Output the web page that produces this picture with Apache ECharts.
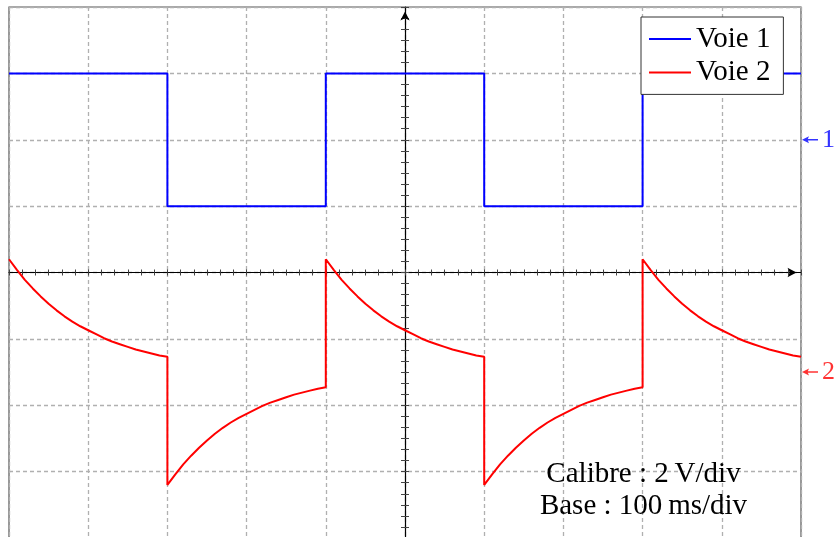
<!DOCTYPE html>
<html>
<head>
<meta charset="utf-8">
<script src="https://cdn.jsdelivr.net/npm/echarts@6/dist/echarts.min.js"></script>
<style>
  html, body { margin: 0; padding: 0; background: #fff; }
  #chart { width: 836px; height: 537px; }
</style>
</head>
<body>
<div id="chart"></div>
<script>
// Oscilloscope screen: 10 horizontal divisions of 100 ms, 8 vertical divisions.
const timeRange = [-500, 500];        // ms
const divRange = [-4, 4];             // vertical divisions

// Voie 1: square wave (levels in divisions between successive edges)
const voie1Edges = [-500, -300, -100, 100, 300, 500];
const voie1Levels = [3, 1, 3, 1, 3];

// Voie 2: RC response, one point every 10 ms within each half period
const segmentOffsets = [0, 10, 20, 30, 40, 50, 60, 70, 80, 90, 100,
                        110, 120, 130, 140, 150, 160, 170, 180, 190, 200];
const decayLevels = [0.20, 0.04, -0.11, -0.24, -0.36, -0.47, -0.57, -0.66, -0.74, -0.81, -0.87,
                     -0.93, -0.99, -1.04, -1.08, -1.12, -1.16, -1.19, -1.22, -1.25, -1.27];
const riseLevels  = [-3.20, -3.04, -2.89, -2.76, -2.64, -2.53, -2.43, -2.34, -2.26, -2.19, -2.13,
                     -2.07, -2.01, -1.96, -1.92, -1.88, -1.84, -1.81, -1.78, -1.75, -1.73];
const voie2Starts = [-500, -300, -100, 100, 300];
const voie2Shapes = ['decay', 'rise', 'decay', 'rise', 'decay'];

// Ground reference markers on the right edge
const markerLevels = [2, -1.5];
const markerLabels = ['1', '2'];
const markerColors = ['#0000ff', '#ff0000'];

const legendNames = ['Voie 1', 'Voie 2'];
const infoLines = ['Calibre : 2\u2009V/div', 'Base : 100\u2009ms/div'];

const FONT = '"Liberation Serif", "DejaVu Serif", serif';

const voie1Data = [];
voie1Levels.forEach((lvl, i) => {
  voie1Data.push([voie1Edges[i], lvl]);
  voie1Data.push([voie1Edges[i + 1], lvl]);
});

const voie2Data = [];
voie2Starts.forEach((start, i) => {
  const levels = voie2Shapes[i] === 'decay' ? decayLevels : riseLevels;
  segmentOffsets.forEach((dt, k) => voie2Data.push([start + dt, levels[k]]));
});

const markerPath = 'path://M0,3.5 L7,0 L5.5,3.5 L7,7 Z M5,2.8 L16,2.8 L16,4.2 L5,4.2 Z';

const chart = echarts.init(document.getElementById('chart'), null, { renderer: 'canvas' });

const tickStyleX = { show: true, length: 3, lineStyle: { color: '#444', width: 1 } };
const tickStyleY = { show: true, length: 4, lineStyle: { color: '#444', width: 1 } };
const gridLine = { show: true, lineStyle: { color: '#b0b0b0', width: 1.3, type: [4, 3] } };

chart.setOption({
  animation: false,
  backgroundColor: '#fff',
  grid: {
    left: 9, top: 7, width: 792, height: 531,
    show: true, borderColor: '#555', borderWidth: 1.2, backgroundColor: 'transparent',
    outerBoundsMode: 'none'
  },
  xAxis: [
    {
      type: 'value', position: 'bottom', min: timeRange[0], max: timeRange[1], interval: 100,
      axisLine: { show: true, onZero: true, onZeroAxisIndex: 0, symbol: ['none', 'arrow'],
        symbolSize: [7, 9], symbolOffset: [0, -4.5], lineStyle: { color: '#000', width: 1.2 } },
      axisTick: tickStyleX,
      minorTick: { show: true, splitNumber: 6, length: 3, lineStyle: { color: '#444', width: 1 } },
      axisLabel: { show: false },
      splitLine: gridLine
    },
    {
      type: 'value', position: 'top', min: timeRange[0], max: timeRange[1], interval: 100,
      axisLine: { show: false, onZero: true, onZeroAxisIndex: 0 },
      axisTick: tickStyleX,
      minorTick: { show: true, splitNumber: 6, length: 3, lineStyle: { color: '#444', width: 1 } },
      axisLabel: { show: false },
      splitLine: { show: false }
    }
  ],
  yAxis: [
    {
      type: 'value', position: 'left', min: divRange[0], max: divRange[1], interval: 1,
      axisLine: { show: true, onZero: true, onZeroAxisIndex: 0, symbol: ['none', 'arrow'],
        symbolSize: [7, 9], symbolOffset: [0, -4.5], lineStyle: { color: '#000', width: 1.2 } },
      axisTick: tickStyleY,
      minorTick: { show: true, splitNumber: 6, length: 4, lineStyle: { color: '#444', width: 1 } },
      axisLabel: { show: false },
      splitLine: gridLine
    },
    {
      type: 'value', position: 'right', min: divRange[0], max: divRange[1], interval: 1,
      axisLine: { show: false, onZero: true, onZeroAxisIndex: 0 },
      axisTick: tickStyleY,
      minorTick: { show: true, splitNumber: 6, length: 4, lineStyle: { color: '#444', width: 1 } },
      axisLabel: { show: false },
      splitLine: { show: false }
    }
  ],
  legend: {
    data: legendNames.map(n => ({ name: n, icon: 'rect' })),
    left: 641, top: 17,
    orient: 'vertical',
    padding: [7, 13, 7, 8],
    itemGap: 3.4,
    itemWidth: 42, itemHeight: 2,
    backgroundColor: '#fff',
    borderColor: '#333', borderWidth: 1, borderRadius: 0,
    textStyle: { fontFamily: FONT, fontSize: 29, color: '#000', lineHeight: 30 }
  },
  series: [
    {
      name: legendNames[0], type: 'line', data: voie1Data, symbol: 'none',
      lineStyle: { color: '#0000ff', width: 2 }, itemStyle: { color: '#0000ff' }
    },
    {
      name: legendNames[1], type: 'line', data: voie2Data, symbol: 'none',
      lineStyle: { color: '#ff0000', width: 2 }, itemStyle: { color: '#ff0000' }
    },
    {
      name: 'markers', type: 'scatter', silent: true, clip: false,
      symbol: markerPath, symbolSize: [16, 7], symbolOffset: [9, 0],
      data: markerLevels.map((lvl, i) => ({
        value: [timeRange[1], lvl],
        itemStyle: { color: markerColors[i] },
        label: {
          show: true, position: 'right', distance: 4, formatter: markerLabels[i],
          color: markerColors[i], fontFamily: FONT, fontSize: 26
        }
      }))
    }
  ],
  graphic: infoLines.map((line, i) => ({
    type: 'text', x: 643.5, y: 474 + i * 32, z: 100,
    style: {
      text: line, fill: '#000', font: '29px ' + FONT,
      textAlign: 'center', textVerticalAlign: 'middle'
    }
  }))
});
</script>
</body>
</html>
